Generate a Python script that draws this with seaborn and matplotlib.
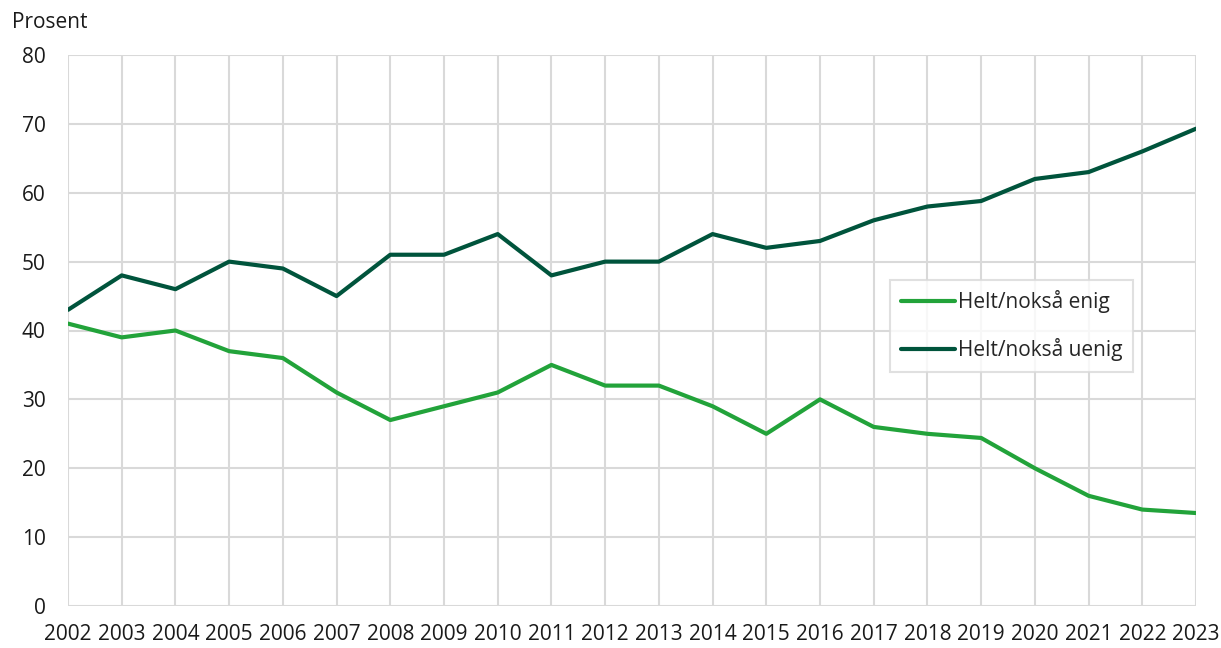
import numpy as np
import pandas as pd
import matplotlib
matplotlib.use("Agg")
import matplotlib.pyplot as plt
import seaborn as sns

years = list(range(2002, 2024))
enig = [41, 39, 40, 37, 36, 31, 27, 29, 31, 35, 32, 32, 29, 25, 30, 26, 25, 24.4, 20, 16, 14, 13.5]
uenig = [43, 48, 46, 50, 49, 45, 51, 51, 54, 48, 50, 50, 54, 52, 53, 56, 58, 58.8, 62, 63, 66, 69.3]
series_names = ["Helt/nokså enig", "Helt/nokså uenig"]
colors = ["#22a33a", "#00543c"]

df = pd.DataFrame({
    "År": years * 2,
    "Prosent": enig + uenig,
    "Serie": [series_names[0]] * len(years) + [series_names[1]] * len(years),
})

sns.set_theme(style="white")
plt.rcParams["font.family"] = ["Open Sans", "DejaVu Sans"]

fig = plt.figure(figsize=(12.21, 6.48), dpi=100)
ax = fig.add_axes([68 / 1221, 42 / 648, 1128 / 1221, 551 / 648])

sns.lineplot(data=df, x="År", y="Prosent", hue="Serie", palette=colors,
             linewidth=3.0, ax=ax, solid_capstyle="round")

ax.set_xlim(2002, 2023)
ax.set_ylim(0, 80)
ax.set_xticks(years)
ax.set_xticklabels([str(y) for y in years])
ax.set_yticks(range(0, 81, 10))
ax.grid(True, color="#d9d9d9", linewidth=1.5)
ax.set_axisbelow(True)
for s in ax.spines.values():
    s.set_visible(False)
ax.tick_params(axis="both", length=0, labelsize=15, colors="#1a1a1a")
ax.tick_params(axis="x", pad=13)
ax.tick_params(axis="y", pad=16)
ax.set_xlabel("")
ax.set_ylabel("")
fig.text(12 / 1221, 1 - 22 / 648, "Prosent", fontsize=15, color="#1a1a1a", va="center", ha="left")

leg = ax.legend(loc="upper left", bbox_to_anchor=(0.729, 0.592), borderaxespad=0,
                frameon=True, fancybox=False, fontsize=15, handlelength=2.6,
                handletextpad=0.15, labelspacing=1.2, borderpad=0.5)
leg.get_frame().set_edgecolor("#d9d9d9")
leg.get_frame().set_linewidth(1.5)
for line in leg.get_lines():
    line.set_linewidth(3.0)
    line.set_solid_capstyle("round")

fig.savefig("out.png", dpi=100)
